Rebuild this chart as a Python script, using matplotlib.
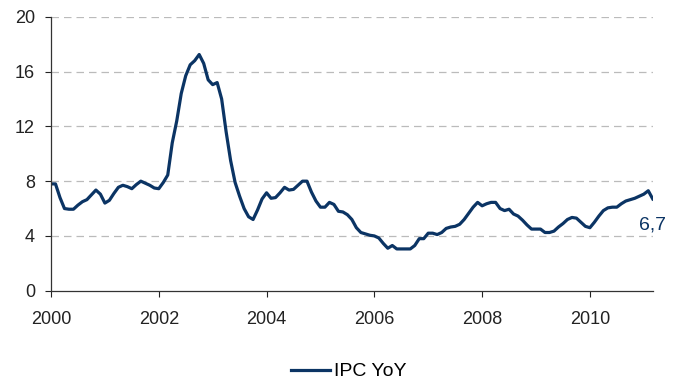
import numpy as np
import matplotlib.pyplot as plt

plt.rcParams['font.family'] = ['Liberation Sans', 'DejaVu Sans']

# Monthly year-on-year inflation, Jan 2000 onwards
start_year = 2000
ipc_yoy = [
    7.8, 7.8, 6.8, 6.0, 5.95, 5.95, 6.25, 6.5, 6.65, 7.0, 7.35, 7.05,
    6.4, 6.6, 7.1, 7.55, 7.7, 7.6, 7.45, 7.75, 8.0, 7.85, 7.7, 7.5,
    7.45, 7.9, 8.45, 10.8, 12.4, 14.4, 15.7, 16.5, 16.8, 17.25, 16.6, 15.4,
    15.05, 15.2, 14.0, 11.6, 9.5, 7.9, 6.9, 6.0, 5.4, 5.2, 5.9, 6.7,
    7.15, 6.75, 6.8, 7.15, 7.55, 7.35, 7.4, 7.7, 8.0, 8.0, 7.2, 6.55,
    6.1, 6.1, 6.45, 6.3, 5.8, 5.75, 5.55, 5.2, 4.6, 4.25, 4.15, 4.05,
    4.0, 3.85, 3.45, 3.1, 3.3, 3.05, 3.05, 3.05, 3.05, 3.3, 3.8, 3.8,
    4.2, 4.2, 4.1, 4.25, 4.55, 4.65, 4.7, 4.85, 5.2, 5.65, 6.1, 6.45,
    6.2, 6.35, 6.45, 6.45, 6.0, 5.85, 5.95, 5.6, 5.45, 5.15, 4.8, 4.5,
    4.5, 4.5, 4.25, 4.25, 4.35, 4.65, 4.9, 5.2, 5.35, 5.3, 5.0, 4.7,
    4.6, 5.0, 5.45, 5.85, 6.05, 6.1, 6.1, 6.35, 6.55, 6.65, 6.75, 6.9,
    7.05, 7.3, 6.7,
]
series_label = "IPC YoY"
last_label = "6,7"
year_ticks = [2000, 2002, 2004, 2006, 2008, 2010]
value_ticks = [0, 4, 8, 12, 16, 20]

navy = '#0B3464'
dates = start_year + np.arange(len(ipc_yoy)) / 12.0

fig = plt.figure(figsize=(6.8, 3.83), dpi=100)
ax = fig.add_axes([0.075, 0.241, 0.886, 0.715])

ax.plot(dates, ipc_yoy, color=navy, lw=2.3, label=series_label,
        solid_joinstyle='round')

ax.set_xlim(2000, 2011.18)
ax.set_ylim(0, 20)
ax.set_xticks(year_ticks)
ax.set_yticks(value_ticks)
ax.tick_params(axis='both', labelsize=13, colors='#222222', length=4.5,
               direction='out')
ax.tick_params(axis='y', pad=7)
ax.tick_params(axis='x', pad=10)

for y in value_ticks[1:]:
    ax.axhline(y, color='#BBBBBB', lw=0.9, ls=(0, (6, 4)), zorder=0)

for side in ('top', 'right'):
    ax.spines[side].set_visible(False)
for side in ('left', 'bottom'):
    ax.spines[side].set_color('#333333')
    ax.spines[side].set_linewidth(0.9)

# value callout for the latest reading
ax.annotate(last_label, xy=(dates[-1], ipc_yoy[-1]), xytext=(-10, -19),
            textcoords='offset points', color=navy, fontsize=14,
            ha='left', va='center')

fig.legend(loc='center', bbox_to_anchor=(0.513, 0.03), frameon=False,
           fontsize=14, handlelength=2.0, handletextpad=0.2)

fig.savefig('out.png', dpi=100)
